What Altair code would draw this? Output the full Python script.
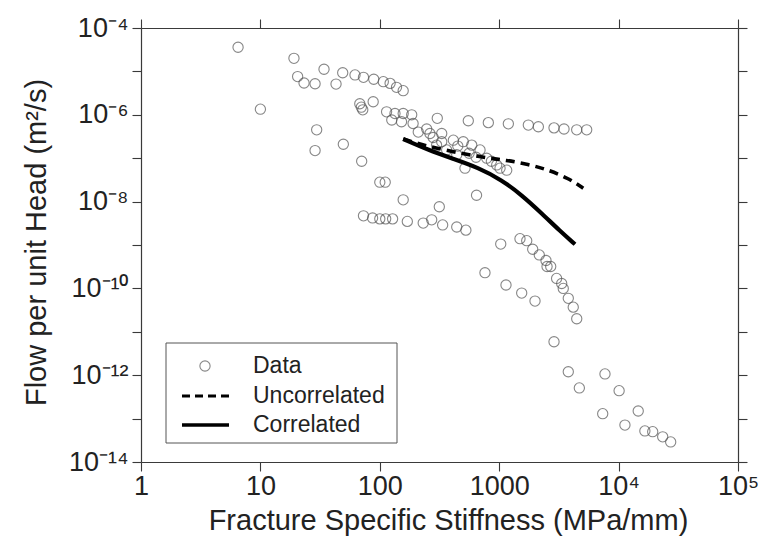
import altair as alt
import pandas as pd

# ---------------- data ----------------
data_x = [6.5, 10, 19.1, 20.5, 23.2, 28.7, 34.1, 43, 48.9, 62, 73, 89, 107, 122, 138, 157,
          68, 70, 72, 88, 114, 134, 126, 157, 185, 152, 190, 303,
          551, 811, 1193, 1754, 2128, 2878, 3490, 4457, 5405,
          29.6, 28.7, 49.5, 70.5, 100, 111, 157, 315, 646,
          73, 87, 100, 112, 128, 170, 231, 272, 336, 441, 526,
          247, 263, 330, 330, 413, 500, 589, 691, 786, 953, 1156, 441, 517, 363, 299, 1016,
          210, 280, 450, 560, 640, 860,
          1030, 1493, 1700, 1908, 2167, 2466, 2516, 2700, 3025, 3337, 3440, 3790, 4170, 4460,
          760, 1140, 1543, 1995, 2878,
          3790, 4690, 7690, 10100, 7360, 11300, 14600, 16600, 19300, 23400, 27300]
data_y = [3.6e-5, 1.35e-6, 2.0e-5, 7.6e-6, 5.4e-6, 5.2e-6, 1.12e-5, 5.1e-6, 9.3e-6, 8.3e-6, 7.3e-6, 6.6e-6, 5.8e-6, 5.3e-6, 4.3e-6, 3.6e-6,
          1.8e-6, 1.5e-6, 1.3e-6, 2.0e-6, 1.17e-6, 1.07e-6, 7.6e-7, 1.07e-6, 1.0e-6, 6.9e-7, 6.3e-7, 8.3e-7,
          7.3e-7, 6.6e-7, 6.2e-7, 5.8e-7, 5.3e-7, 5.0e-7, 4.7e-7, 4.5e-7, 4.5e-7,
          4.5e-7, 1.5e-7, 2.1e-7, 8.5e-8, 2.8e-8, 2.8e-8, 1.1e-8, 7.6e-9, 1.4e-8,
          4.7e-9, 4.2e-9, 4.0e-9, 4.0e-9, 4.0e-9, 3.5e-9, 3.2e-9, 3.8e-9, 2.9e-9, 2.6e-9, 2.2e-9,
          4.7e-7, 3.7e-7, 3.7e-7, 2.4e-7, 2.6e-7, 2.4e-7, 2.0e-7, 1.55e-7, 1.0e-7, 7.0e-8, 5.3e-8, 1.2e-7, 5.9e-8, 1.55e-7, 2.0e-7, 5.9e-8,
          4.0e-7, 3.0e-7, 1.9e-7, 1.3e-7, 1.05e-7, 8.5e-8,
          1.05e-9, 1.4e-9, 1.26e-9, 8.0e-10, 5.9e-10, 4.4e-10, 3.2e-10, 3.2e-10, 1.7e-10, 1.3e-10, 1.0e-10, 5.9e-11, 3.7e-11, 2.0e-11,
          2.3e-10, 1.2e-10, 7.8e-11, 5.1e-11, 5.9e-12,
          1.2e-12, 5.1e-13, 1.07e-12, 4.4e-13, 1.3e-13, 7.1e-14, 1.5e-13, 5.2e-14, 5.0e-14, 3.8e-14, 2.9e-14]

corr_x = [157, 255, 400, 668, 1050, 1543, 2270, 3230, 4315]
corr_y = [2.77e-7, 1.55e-7, 9.95e-8, 6.1e-8, 3.15e-8, 1.42e-8, 5.37e-9, 2.1e-9, 1.04e-9]

uncorr_x = [157, 255, 484, 811, 1119, 1754, 2578, 3790, 5060]
uncorr_y = [2.77e-7, 1.84e-7, 1.29e-7, 9.95e-8, 9.1e-8, 7.25e-8, 5.37e-8, 3.46e-8, 2.04e-8]

x_ticks = [1, 10, 100, 1000, 1e4, 1e5]
x_tick_labels = ["1", "10", "100", "1000", "10⁴", "10⁵"]
y_ticks = [1e-14, 1e-13, 1e-12, 1e-11, 1e-10, 1e-9, 1e-8, 1e-7, 1e-6, 1e-5, 1e-4]
y_tick_labels = ["10⁻¹⁴", "", "10⁻¹²", "", "10⁻¹⁰", "", "10⁻⁸", "", "10⁻⁶", "", "10⁻⁴"]

legend_labels = ["Data", "Uncorrelated", "Correlated"]

x_title = "Fracture Specific Stiffness (MPa/mm)"
y_title = "Flow per unit Head (m²/s)"

# ---------------- helpers ----------------
def label_expr(values, labels):
    expr = "''"
    for v, l in zip(values, labels):
        expr = f"datum.value == {v!r} ? '{l}' : ({expr})"
    return expr

FONT = "Liberation Sans"
AX = "#3a3a3a"

x_scale = alt.Scale(type="log", domain=[1, 1e5], nice=False)
y_scale = alt.Scale(type="log", domain=[1e-14, 1e-4], nice=False)

x_axis = alt.Axis(values=x_ticks, labelExpr=label_expr(x_ticks, x_tick_labels), title=x_title,
                  titleX=307, titleY=67, titleBaseline="alphabetic", titleAlign="center",
                  labelPadding=2, labelFlush=False, labelOverlap=False)
y_axis = alt.Axis(values=y_ticks, labelExpr=label_expr(y_ticks, y_tick_labels), title=y_title,
                  titleX=-96, titleY=214, titleBaseline="alphabetic", titleAlign="center",
                  labelPadding=4, labelFlush=False, labelOverlap=False)

df_pts = pd.DataFrame({"x": data_x, "y": data_y})
df_corr = pd.DataFrame({"x": corr_x, "y": corr_y})
df_unc = pd.DataFrame({"x": uncorr_x, "y": uncorr_y})

points = alt.Chart(df_pts).mark_point(shape="circle", filled=False, stroke="#555555",
                                      strokeWidth=1.1, size=105).encode(
    x=alt.X("x:Q", scale=x_scale, axis=x_axis),
    y=alt.Y("y:Q", scale=y_scale, axis=y_axis),
)

frame = alt.Chart(df_pts).mark_point(opacity=0).encode(
    x=alt.X("x:Q", scale=x_scale, axis=alt.Axis(orient="top", values=x_ticks, labels=False, title=None)),
    y=alt.Y("y:Q", scale=y_scale, axis=alt.Axis(orient="right", values=y_ticks, labels=False, title=None)),
)

unc = alt.Chart(df_unc).mark_line(color="black", strokeWidth=3.6, strokeDash=[9, 6],
                                  interpolate="basis").encode(
    x=alt.X("x:Q", scale=x_scale, axis=None),
    y=alt.Y("y:Q", scale=y_scale, axis=None),
)
corr = alt.Chart(df_corr).mark_line(color="black", strokeWidth=4.2, interpolate="basis").encode(
    x=alt.X("x:Q", scale=x_scale, axis=None),
    y=alt.Y("y:Q", scale=y_scale, axis=None),
)

one = alt.Data(values=[{}])
leg_box = alt.Chart(one).mark_rect(fill="white", stroke="#555555", strokeWidth=1).encode(
    x=alt.value(25), x2=alt.value(256), y=alt.value(315), y2=alt.value(415))
leg_pt = alt.Chart(one).mark_point(shape="circle", filled=False, stroke="#555555",
                                   strokeWidth=1.1, size=105).encode(x=alt.value(64), y=alt.value(338))
leg_dash = alt.Chart(one).mark_rule(color="black", strokeWidth=3, strokeDash=[8, 5]).encode(
    x=alt.value(41), x2=alt.value(88), y=alt.value(368))
leg_solid = alt.Chart(one).mark_rule(color="black", strokeWidth=3.6).encode(
    x=alt.value(41), x2=alt.value(88), y=alt.value(397))
leg_texts = [
    alt.Chart(one).mark_text(text=lab, align="left", baseline="middle", font=FONT,
                             fontSize=23, color="#222222").encode(x=alt.value(112), y=alt.value(yy))
    for lab, yy in zip(legend_labels, [338, 368, 397])
]

chart = alt.layer(points, frame, unc, corr, leg_box, leg_pt, leg_dash, leg_solid, *leg_texts).resolve_axis(
    x="independent", y="independent"
).properties(
    width=597, height=434,
    padding={"left": 141, "top": 28, "right": 29, "bottom": 85},
    autosize=alt.AutoSizeParams(type="none"),
    background="white",
).configure_view(stroke=None).configure_axis(
    grid=False, domainColor=AX, domainWidth=1.2, tickColor=AX, tickWidth=1.1, tickSize=9,
    labelFont=FONT, labelFontSize=27, labelColor="#222222",
    titleFont=FONT, titleFontSize=29, titleFontWeight="normal", titleColor="#222222",
)

chart.save("out.html", embed_options={"renderer": "svg", "actions": False})
